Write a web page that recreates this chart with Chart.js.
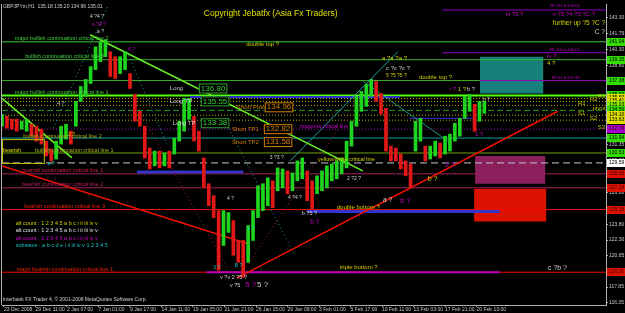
<!DOCTYPE html>
<html>
<head>
<meta charset="utf-8">
<style>
  html, body { margin: 0; padding: 0; background: #000; }
  canvas { display: block; }
</style>
<script src="https://cdn.jsdelivr.net/npm/chart.js@4.4.1/dist/chart.umd.min.js"></script>
</head>
<body>
<canvas id="chart" width="625" height="313"></canvas>
<script>
// time axis in H1 bars, price axis in yen
const xMax = 1227;
const yMin = 116.16;
const yMax = 144.615;

const tickBars = [4, 68, 132, 196, 260, 324, 388, 452, 516, 580, 644, 708, 772, 836, 900, 964];
const tickLabels = ['23 Dec 2008', '29 Dec 11:00', '2 Jan 07:00', '7 Jan 01:00', '9 Jan 17:00',
  '14 Jan 11:00', '19 Jan 05:00', '21 Jan 21:00', '26 Jan 15:00', '29 Jan 09:00', '3 Feb 01:00',
  '5 Feb 17:00', '10 Feb 11:00', '13 Feb 03:00', '17 Feb 21:00', '20 Feb 13:00'];
const priceTicks = ['143.30', '141.79', '140.30', '138.80', '137.30', '135.80', '134.30', '132.80',
  '131.35', '129.80', '128.30', '126.80', '125.30', '123.80', '122.30', '120.85', '119.30', '117.85', '116.35'];

// one sample every 10 bars
const candleStep = 10;
const candleHigh = [134.19, 134.00, 133.72, 133.72, 133.53, 133.72, 133.25, 133.06, 132.78, 131.65,
  130.90, 131.65, 133.06, 133.25, 132.59, 135.41, 136.82, 137.48, 138.70, 140.57,
  141.04, 141.23, 140.10, 139.64, 139.64, 140.10, 138.04, 136.07, 134.47, 133.06,
  131.00, 130.71, 130.71, 130.53, 130.71, 131.94, 133.53, 135.69, 135.69, 134.00,
  132.59, 130.06, 127.62, 126.49, 125.08, 125.08, 124.89, 124.14, 122.26, 122.26,
  123.67, 125.08, 127.43, 127.62, 128.18, 127.90, 129.12, 129.02, 128.84, 128.65,
  129.78, 130.06, 128.84, 127.90, 128.37, 128.84, 129.31, 129.49, 129.78, 130.06,
  131.65, 133.53, 135.88, 136.35, 137.01, 137.48, 137.29, 136.16, 134.75, 131.18,
  131.00, 130.43, 129.78, 129.49, 133.53, 133.81, 131.18, 131.18, 131.65, 131.47,
  132.12, 132.31, 133.34, 133.81, 135.88, 136.07, 135.13, 135.41, 135.41];
const candleLow = [133.06, 132.87, 132.78, 132.59, 132.78, 132.59, 132.12, 131.65, 131.37, 130.25,
  129.78, 129.96, 131.37, 131.84, 131.37, 133.06, 135.41, 135.88, 137.10, 138.41,
  139.17, 139.64, 137.76, 137.57, 138.04, 138.41, 136.63, 133.53, 133.06, 130.06,
  129.02, 129.31, 129.12, 129.31, 129.12, 130.43, 131.65, 132.59, 133.72, 131.65,
  130.71, 127.24, 125.55, 124.42, 119.45, 121.79, 123.02, 120.86, 120.20, 118.79,
  120.20, 122.26, 124.42, 125.08, 125.55, 125.36, 126.96, 127.24, 126.68, 126.96,
  127.90, 128.09, 126.02, 125.27, 126.68, 126.96, 127.24, 127.90, 128.09, 128.56,
  129.12, 131.18, 133.06, 134.47, 134.94, 135.88, 135.41, 134.19, 130.71, 129.78,
  129.78, 129.02, 128.37, 127.24, 130.71, 131.65, 129.78, 129.96, 130.25, 130.06,
  130.43, 130.71, 131.65, 132.12, 133.81, 134.47, 132.59, 133.53, 134.28];

// critical lines (full width)
const levelPrices = [141.04, 139.35, 137.38, 135.97, 131.94, 130.53, 129.59, 128.56, 127.24, 125.18, 119.26];
const levelColors = ['#3ccc30', '#3ab028', '#3ab028', '#55ff10', '#10a0a0', '#70a010', '#c8c8c8', '#a0205a', '#a0205a', '#ee1100', '#ee1100'];
const levelWidths = [1, 1, 1, 2, 1, 1, 1, 1, 1, 1, 1];

// daily pivots
const pivotPrices = [135.69, 135.41, 135.03, 134.56, 134.10, 133.63, 132.78];
const pivotNames = ['R3', 'R2', 'R1', 'pivot', 'S1', 'S2', 'S3'];
const pivotNameBars = [1210, 1194, 1170, 1200, 1170, 1194, 1210];

// partial horizontal lines: [fromBar, toBar, price]
const segments = [
  [382, 808, 135.83], [828, 961, 133.81], [274, 490, 128.74], [620, 1011, 124.99],
  [416, 1011, 119.26], [894, 1227, 144.05], [894, 1227, 140.01], [971, 1227, 137.38],
];
const segmentColors = ['#3030d0', '#3030d0', '#3434c8', '#3434c8', '#c000c0', '#9000c0', '#9000c0', '#9000c0'];
const segmentWidths = [2, 1, 3, 3, 2, 1, 1, 1];

// trend lines: [bar1, price1, bar2, price2]
const trends = [
  [179, 141.70, 733, 128.84], [0, 135.69, 142, 130.06], [0, 129.31, 498, 121.98],
  [477, 118.70, 1129, 134.47], [585, 129.78, 804, 140.10], [734, 137.29, 906, 131.65],
  [104, 132.87, 217, 144.61], [254, 140.10, 335, 131.37], [453, 133.53, 595, 120.86],
  [266, 135.69, 457, 119.73], [483, 118.79, 747, 137.29],
];
const trendColors = ['#66ee22', '#66ee22', '#ee1100', '#ee1100', '#20a0a0', '#209080',
  '#20a0a0', '#20a0a0', '#20a0a0', '#b02050', '#b02050'];
const trendDotted = [false, false, false, false, false, false, true, true, true, true, true];

// zones: [fromBar, toBar, top, bottom]
const zones = [[971, 1100, 139.64, 136.16], [961, 1104, 130.25, 127.62], [959, 1106, 127.15, 124.05]];
const zoneColors = ['#17807a', '#8a1f5c', '#dd1100'];

// price tags on the right axis
const tagPrices = [141.04, 139.35, 137.38, 135.97, 135.69, 135.41, 135.03, 134.56, 134.10, 133.63,
  132.78, 131.94, 130.53, 129.59, 128.56, 127.24, 125.18, 119.26];
const tagColors = ['#33dd00', '#33dd00', '#33dd00', '#33dd00', '#dddd00', '#dddd00', '#88ee00', '#33dd00',
  '#dddd00', '#dddd00', '#aa00cc', '#33dd00', '#33dd00', '#ffffff', '#dd1100', '#dd1100', '#dd1100', '#dd1100'];

const Y = '#d0d000', W = '#d0d0d0', P = '#c000c0', G = '#40d040', O = '#a8b020', R = '#ee2200', T = '#20c0c0', OR = '#d08000';
// text notes: [text, bar, price, color, size, boxColor]
const notes = [
  ['GBPJPYm,H1  135.18 135.20 134.96 135.01', 2, 144.33, W, 5],
  ['Copyright Jebatfx (Asia Fx Traders)', 410, 143.67, '#e0e000', 8.5],
  ['major bullish continuation critical line 2', 26, 141.33, G, 5.5],
  ['bullish continuation critical line 3', 47, 139.64, G, 5.5],
  ['major bullish continuation critical line 1', 26, 136.25, G, 5.5],
  ['bullish continuation critical line 2', 43, 132.12, O, 5.5],
  ['bullish continuation critical line 1', 67, 130.81, O, 5.5],
  ['bearish', 2, 130.81, '#e0e000', 5.5],
  ['bearish continuation critical line 1', 41, 128.84, '#d02050', 5.5],
  ['bearish continuation critical line 2', 41, 127.52, '#c02060', 5.5],
  ['bearish continuation critical line 3', 45, 125.46, R, 5.5],
  ['major bearish continuation critical line 1', 30, 119.54, R, 5.5],
  ['alt count : 1 2 3 4 5 a b c i ii iii iv v', 28, 123.86, Y, 5.5],
  ['alt count : 1 2 3 4 5 a b c i ii iii iv v', 28, 123.20, '#e0e0e0', 5.5],
  ['alt count : 1 2 3 4 5 a b c i ii iii iv v', 28, 122.45, '#d000d0', 5.5],
  ['subwave : a b c d e i ii iii iv v 1 2 3 4 5', 28, 121.80, '#10c0c0', 5.5],
  ['double top ?', 496, 140.76, Y, 6],
  ['double top ?', 847, 137.66, Y, 6],
  ['further up ?5 ?C ?', 1119, 142.83, Y, 6.5],
  ['C ?', 1204, 141.98, W, 6.5],
  ['iii ?3 ?', 1024, 143.67, P, 6],
  ['v ?3 ?4 ?5 ?C ?', 1119, 143.67, P, 6],
  ['FE 161.8-144.04', 1113, 144.42, P, 4],
  ['FE 100.0-140.01', 1113, 140.29, P, 4],
  ['FE 61.8-137.48', 1117, 137.66, P, 4],
  ['iv ?', 1107, 139.64, P, 6],
  ['4 ?', 1107, 138.98, Y, 6],
  ['i ?', 910, 136.54, P, 6],
  ['1 ?', 926, 136.54, Y, 6],
  ['b ?', 944, 136.54, W, 6],
  ['Long', 341, 136.63, W, 6],
  ['136.80', 404, 136.63, '#30d030', 8, '#30a030'],
  ['Long TP', 341, 135.41, W, 6],
  ['135.55', 408, 135.41, '#30d030', 8, '#30a030'],
  ['Long TP', 347, 133.34, W, 6],
  ['133.38', 408, 133.34, '#30d030', 8, '#30a030'],
  ['Short Post', 477, 134.85, OR, 6],
  ['134.96', 538, 134.85, OR, 8, OR],
  ['Short TP1', 467, 132.78, OR, 6],
  ['132.82', 536, 132.78, OR, 8, OR],
  ['Short TP2', 467, 131.56, OR, 6],
  ['131.58', 536, 131.56, OR, 8, OR],
  ['magenta critical line', 605, 133.06, P, 5.5],
  ['yellow/white critical line', 642, 129.87, Y, 5.5],
  ['double bottom ?', 680, 125.36, Y, 6],
  ['triple bottom ?', 686, 119.73, Y, 6],
  ['c ?b ?', 1109, 119.63, W, 7],
  ['v ?v 2 ?5 ?', 443, 118.79, W, 5.5],
  ['v ?5', 463, 118.04, W, 5.5],
  ['5 ?', 494, 118.04, P, 8],
  ['5 ?', 518, 118.04, W, 8],
  ['a ?', 774, 126.02, W, 6.5],
  ['b ?', 809, 126.02, P, 7.5],
  ['b ?5 ?', 609, 124.80, W, 5.5],
  ['b ?', 626, 123.95, P, 6.5],
  ['4 ?4 ?', 179, 143.39, W, 5],
  ['a ?4 ?', 183, 142.64, P, 5],
  ['a ?', 193, 141.98, W, 5],
  ['a ?a ?a ?', 772, 139.45, Y, 6],
  ['c ?c ?c ?', 780, 138.51, W, 6],
  ['5 ?5 ?5 ?', 780, 137.85, Y, 5],
  ['3 ?', 429, 119.73, T, 5],
  ['B ?', 473, 119.92, T, 5],
  ['a ?', 498, 123.39, T, 5],
  ['4 ?', 457, 126.21, W, 5],
  ['2 ?2 ?', 701, 128.09, W, 5],
  ['3 ?3 ?', 544, 130.06, W, 5],
  ['4 ?4 ?', 581, 126.30, W, 5],
  ['2 ?', 900, 129.40, P, 7],
  ['b ?', 865, 128.09, Y, 7],
  ['1 ?', 961, 132.31, P, 6],
  ['a ?', 93, 129.49, T, 5],
  ['2 ?', 134, 132.31, Y, 5],
  ['4 ?', 112, 135.22, W, 5],
  ['4 ?', 256, 140.29, P, 5],
  ['b ?', 977, 135.60, W, 5],
  ['Interbank FX Trader 4, \u00a9 2001-2008 MetaQuotes Software Corp.', 2, 116.63, W, 5],
];
// boxed area on the left: [bar1, price1, bar2, price2]
const frames = [[0, 131.84, 85, 129.59]];

const FONT = '"Liberation Sans", Arial, sans-serif';

function line(points, color, width, dash, order) {
  return {
    type: 'line',
    data: points,
    borderColor: color,
    borderWidth: width,
    borderDash: dash || [],
    pointRadius: 0,
    fill: false,
    tension: 0,
    order: order || 5,
  };
}

function buildDatasets() {
  const sets = [];

  zones.forEach((z, i) => {
    sets.push({
      type: 'line',
      data: [{ x: z[0], y: z[2] }, { x: z[1], y: z[2] }],
      borderWidth: 0,
      pointRadius: 0,
      backgroundColor: zoneColors[i],
      fill: { value: z[3] },
      order: 9,
    });
  });

  levelPrices.forEach((p, i) => {
    const dash = levelColors[i] === '#c8c8c8' ? [7, 4] : [];
    sets.push(line([{ x: 0, y: p }, { x: xMax, y: p }], levelColors[i], levelWidths[i], dash, 6));
  });

  pivotPrices.forEach((p, i) => {
    let color = '#b0b000';
    let dash = [1, 2];
    if (pivotNames[i] === 'pivot') { color = '#20a020'; dash = [6, 3]; }
    if (pivotNames[i] === 'S3') { color = '#a000c0'; }
    sets.push(line([{ x: 0, y: p }, { x: xMax, y: p }], color, 1, dash, 6));
  });

  segments.forEach((s, i) => {
    sets.push(line([{ x: s[0], y: s[2] }, { x: s[1], y: s[2] }], segmentColors[i], segmentWidths[i], [], 4));
  });

  trends.forEach((t, i) => {
    const solid = !trendDotted[i];
    const width = solid && (trendColors[i] === '#66ee22' || trendColors[i] === '#ee1100') ? 1.6 : 1;
    sets.push(line([{ x: t[0], y: t[1] }, { x: t[2], y: t[3] }], trendColors[i], width, solid ? [] : [1, 3], 3));
  });

  const bars = candleHigh.map((h, i) => ({ x: i * candleStep, y: [candleLow[i], h] }));
  const colors = candleHigh.map((h, i) => {
    if (i === 0) return '#1fd41f';
    const mid = (h + candleLow[i]) / 2;
    const prev = (candleHigh[i - 1] + candleLow[i - 1]) / 2;
    return mid >= prev ? '#1fd41f' : '#e01818';
  });
  sets.push({
    type: 'bar',
    data: bars,
    backgroundColor: colors,
    barThickness: 3,
    grouped: false,
    order: 0,
  });

  return sets;
}

const backdrop = {
  id: 'backdrop',
  beforeDraw(chart) {
    const { ctx, width, height } = chart;
    ctx.save();
    ctx.fillStyle = '#000';
    ctx.fillRect(0, 0, width, height);
    ctx.restore();
  },
  afterDraw(chart) {
    const { ctx, chartArea } = chart;
    ctx.save();
    ctx.strokeStyle = '#b0b0b0';
    ctx.lineWidth = 1;
    ctx.beginPath();
    ctx.moveTo(chartArea.left - 0.5, chartArea.top);
    ctx.lineTo(chartArea.left - 0.5, chartArea.bottom);
    ctx.stroke();
    ctx.restore();
  },
};

const noteLayer = {
  id: 'notes',
  afterDatasetsDraw(chart) {
    const { ctx, scales: { x, y } } = chart;
    ctx.save();
    frames.forEach((f) => {
      const x1 = x.getPixelForValue(f[0]);
      const y1 = y.getPixelForValue(f[1]);
      const x2 = x.getPixelForValue(f[2]);
      const y2 = y.getPixelForValue(f[3]);
      ctx.strokeStyle = '#c0c000';
      ctx.lineWidth = 1;
      ctx.strokeRect(x1 + 0.5, y1 + 0.5, x2 - x1, y2 - y1);
    });
    ctx.textBaseline = 'middle';
    ctx.textAlign = 'left';
    pivotNames.forEach((name, i) => {
      ctx.font = `6px ${FONT}`;
      ctx.fillStyle = '#c0c000';
      ctx.fillText(name, x.getPixelForValue(pivotNameBars[i]), y.getPixelForValue(pivotPrices[i]) - 2);
    });
    notes.forEach((n) => {
      const [text, bar, price, color, size, box] = n;
      const px = x.getPixelForValue(bar);
      const py = y.getPixelForValue(price);
      ctx.font = `${size}px ${FONT}`;
      if (box) {
        const w = ctx.measureText(text).width;
        ctx.fillStyle = '#000';
        ctx.fillRect(px - 2, py - 5, w + 4, 10);
        ctx.strokeStyle = box;
        ctx.lineWidth = 1;
        ctx.strokeRect(px - 1.5, py - 4.5, w + 3, 9);
      }
      ctx.fillStyle = color;
      ctx.fillText(text, px, py);
    });
    ctx.restore();
  },
};

const priceTags = {
  id: 'priceTags',
  afterDraw(chart) {
    const { ctx, chartArea, scales: { y } } = chart;
    ctx.save();
    ctx.font = `5px ${FONT}`;
    ctx.textBaseline = 'middle';
    tagPrices.forEach((p, i) => {
      const py = Math.round(y.getPixelForValue(p));
      ctx.fillStyle = tagColors[i];
      ctx.fillRect(chartArea.right + 1, py - 4, 18, 8);
      ctx.fillStyle = tagColors[i] === '#aa00cc' || tagColors[i] === '#dd1100' ? '#400000' : '#000';
      ctx.fillText(p.toFixed(2), chartArea.right + 3, py);
    });
    ctx.restore();
  },
};

new Chart(document.getElementById('chart'), {
  type: 'line',
  data: { datasets: buildDatasets() },
  options: {
    responsive: false,
    animation: false,
    devicePixelRatio: 1,
    layout: { padding: { top: 2, left: 2, right: 0, bottom: 0 } },
    plugins: { legend: { display: false }, tooltip: { enabled: false } },
    scales: {
      x: {
        type: 'linear',
        min: 0,
        max: xMax,
        offset: false,
        grid: { display: true, drawOnChartArea: false, drawTicks: true, tickLength: 2, color: '#b0b0b0', offset: false },
        border: { display: true, color: '#b0b0b0' },
        afterBuildTicks: (scale) => { scale.ticks = tickBars.map((v) => ({ value: v })); },
        afterFit: (scale) => { scale.height = 8; },
        ticks: {
          autoSkip: false,
          maxRotation: 0,
          align: 'start',
          padding: 0,
          color: '#c8c8c8',
          font: { size: 5, family: FONT },
          callback: (v, i) => tickLabels[i],
        },
      },
      y: {
        type: 'linear',
        position: 'right',
        min: yMin,
        max: yMax,
        grid: { display: true, drawOnChartArea: false, drawTicks: true, tickLength: 2, color: '#b0b0b0' },
        border: { display: true, color: '#b0b0b0' },
        afterBuildTicks: (scale) => { scale.ticks = priceTicks.map((v) => ({ value: parseFloat(v) })); },
        afterFit: (scale) => { scale.width = 19; },
        ticks: {
          padding: 1,
          color: '#c8c8c8',
          font: { size: 5, family: FONT },
          callback: (v, i) => priceTicks[i],
        },
      },
    },
  },
  plugins: [backdrop, noteLayer, priceTags],
});
</script>
</body>
</html>
